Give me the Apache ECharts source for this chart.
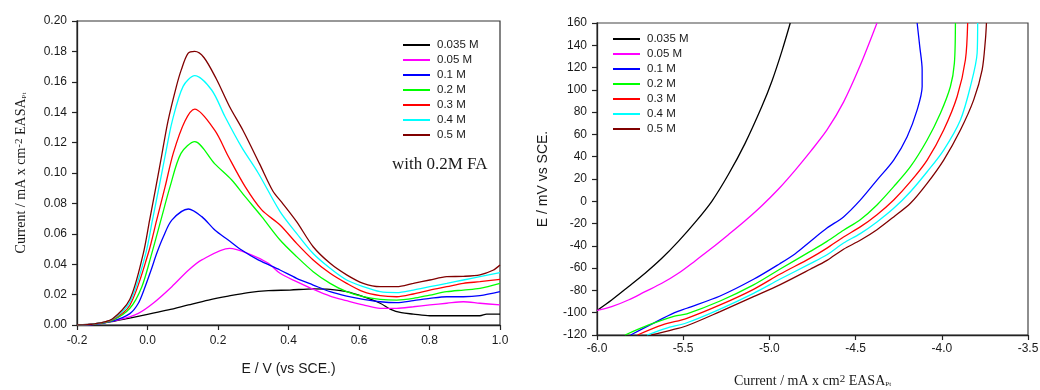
<!DOCTYPE html>
<html>
<head>
<meta charset="utf-8">
<script src="https://cdn.jsdelivr.net/npm/echarts@6/dist/echarts.min.js"></script>
<style>html,body{margin:0;padding:0;background:#fff}#c{width:1040px;height:390px}</style>
</head>
<body>
<div id="c"></div>
<script>
// ---- data ----
const names = ['0.035 M','0.05 M','0.1 M','0.2 M','0.3 M','0.4 M','0.5 M'];
const leftXTicks = [-0.2, 1.0, 0.2];
const leftYTicks = [0, 0.20, 0.02];
const rightXTicks = [-6.0, -3.5, 0.5];
const rightYTicks = [-120, 160, 20];

// Left panel: current vs potential (V, mA cm-2)
const cv035 = [[-0.2,0],[-0.15,0.0007],[-0.102,0.0022],[-0.054,0.0044],[0,0.007],[0.059,0.0099],[0.116,0.0132],[0.173,0.0164],[0.229,0.019],[0.286,0.0213],[0.343,0.0226],[0.404,0.023],[0.47,0.0238],[0.518,0.0235],[0.565,0.0219],[0.612,0.0186],[0.66,0.0143],[0.69,0.0103],[0.72,0.0081],[0.754,0.0072],[0.801,0.0061],[0.849,0.0061],[0.943,0.0061],[0.962,0.0072],[1.0,0.0072]];
const cv05 = [[-0.2,0],[-0.15,0.0005],[-0.083,0.0033],[-0.026,0.0077],[0.016,0.0143],[0.069,0.0252],[0.116,0.036],[0.154,0.0428],[0.233,0.0504],[0.286,0.047],[0.343,0.0406],[0.376,0.034],[0.423,0.0285],[0.47,0.0235],[0.518,0.019],[0.565,0.016],[0.612,0.0132],[0.66,0.011],[0.707,0.011],[0.754,0.012],[0.801,0.0132],[0.849,0.0143],[0.896,0.0153],[0.943,0.0143],[1.0,0.0132]];
const cv1 = [[-0.2,0],[-0.15,0.0005],[-0.1,0.0025],[-0.05,0.0075],[-0.026,0.0143],[-0.007,0.025],[0.01,0.036],[0.026,0.047],[0.045,0.058],[0.069,0.069],[0.116,0.0763],[0.154,0.0713],[0.191,0.0625],[0.229,0.0559],[0.267,0.0493],[0.314,0.0428],[0.376,0.0362],[0.423,0.0307],[0.47,0.0263],[0.518,0.0219],[0.565,0.019],[0.612,0.0169],[0.66,0.0153],[0.707,0.0147],[0.754,0.016],[0.801,0.0175],[0.849,0.0186],[0.896,0.0186],[0.943,0.0193],[1.0,0.0219]];
const cv2 = [[-0.2,0],[-0.15,0.0006],[-0.1,0.003],[-0.05,0.011],[-0.016,0.0252],[0.012,0.047],[0.038,0.069],[0.064,0.091],[0.095,0.1129],[0.134,0.1206],[0.191,0.106],[0.239,0.0954],[0.277,0.0844],[0.324,0.0713],[0.376,0.0559],[0.423,0.045],[0.47,0.0351],[0.518,0.0274],[0.565,0.0219],[0.612,0.0186],[0.66,0.0169],[0.707,0.0164],[0.754,0.0175],[0.801,0.0197],[0.849,0.0219],[0.896,0.023],[0.943,0.0241],[1.0,0.0274]];
const cv3 = [[-0.2,0],[-0.15,0.0007],[-0.1,0.0035],[-0.05,0.013],[0.002,0.047],[0.026,0.069],[0.05,0.091],[0.073,0.1129],[0.106,0.134],[0.134,0.142],[0.191,0.128],[0.229,0.111],[0.277,0.091],[0.324,0.0757],[0.376,0.0658],[0.423,0.0537],[0.47,0.0428],[0.518,0.034],[0.565,0.0274],[0.612,0.0219],[0.66,0.0193],[0.707,0.0186],[0.754,0.0204],[0.801,0.023],[0.849,0.0252],[0.896,0.0274],[0.943,0.0285],[1.0,0.030]];
const cv4 = [[-0.2,0],[-0.15,0.0008],[-0.1,0.0038],[-0.05,0.015],[-0.005,0.047],[0.014,0.069],[0.033,0.091],[0.051,0.1125],[0.07,0.134],[0.101,0.157],[0.134,0.164],[0.182,0.1546],[0.22,0.137],[0.267,0.117],[0.314,0.1],[0.376,0.0746],[0.423,0.0603],[0.47,0.047],[0.518,0.0373],[0.565,0.0296],[0.612,0.0252],[0.66,0.0219],[0.707,0.0213],[0.754,0.023],[0.801,0.0252],[0.849,0.0274],[0.896,0.0296],[0.943,0.0318],[1.0,0.0344]];
const cv5 = [[-0.2,0],[-0.15,0.0008],[-0.1,0.004],[-0.05,0.017],[-0.012,0.047],[0.006,0.069],[0.024,0.091],[0.041,0.1125],[0.058,0.134],[0.082,0.157],[0.096,0.168],[0.115,0.1787],[0.134,0.180],[0.16,0.176],[0.195,0.162],[0.233,0.1436],[0.271,0.128],[0.318,0.106],[0.356,0.088],[0.38,0.081],[0.423,0.068],[0.47,0.0515],[0.518,0.0406],[0.565,0.033],[0.612,0.0274],[0.66,0.0252],[0.707,0.0252],[0.754,0.0274],[0.801,0.0296],[0.849,0.0318],[0.896,0.032],[0.943,0.033],[0.98,0.036],[1.0,0.0395]];

// Right panel: potential (mV) vs current (mA cm2)
const tf035 = [[-6.0,-98],[-5.915,-88.6],[-5.818,-76.7],[-5.721,-64.6],[-5.624,-51.2],[-5.528,-36],[-5.431,-19],[-5.334,0],[-5.238,24],[-5.141,52],[-5.044,85],[-4.985,108],[-4.927,135],[-4.879,160]];
const tf05 = [[-6.0,-98],[-5.915,-94.6],[-5.818,-88.6],[-5.721,-81.1],[-5.624,-73.6],[-5.528,-64.6],[-5.431,-53.5],[-5.334,-42],[-5.238,-30],[-5.141,-17.5],[-5.044,-4],[-4.947,11],[-4.85,28],[-4.76,45],[-4.666,64],[-4.57,89],[-4.473,122],[-4.376,160]];
const tf1 = [[-5.805,-120],[-5.68,-110],[-5.55,-100],[-5.479,-96],[-5.286,-85],[-5.092,-70],[-4.94,-56],[-4.85,-47],[-4.763,-36],[-4.666,-24],[-4.57,-14],[-4.473,1],[-4.376,19],[-4.279,37],[-4.201,58],[-4.143,82],[-4.114,103],[-4.114,118],[-4.128,139],[-4.143,160]];
const tf2 = [[-5.837,-120],[-5.7,-111],[-5.55,-103],[-5.479,-101],[-5.286,-89.5],[-5.092,-75],[-4.94,-61],[-4.763,-45],[-4.666,-36],[-4.57,-26],[-4.473,-16.5],[-4.376,-3.3],[-4.279,13.1],[-4.182,31],[-4.085,55],[-4.008,79],[-3.95,103],[-3.927,124],[-3.921,160]];
const tf3 = [[-5.765,-120],[-5.62,-111],[-5.479,-105],[-5.286,-93],[-5.092,-79],[-4.94,-65.5],[-4.763,-51],[-4.666,-42],[-4.57,-32],[-4.473,-23],[-4.376,-12],[-4.279,1.2],[-4.182,17.6],[-4.085,37],[-3.989,64],[-3.911,94],[-3.863,127],[-3.85,160]];
const tf4 = [[-5.71,-120],[-5.6,-114],[-5.479,-109],[-5.286,-96.7],[-5.092,-82.6],[-4.94,-70],[-4.763,-56],[-4.666,-48],[-4.57,-37.5],[-4.473,-29],[-4.376,-18.5],[-4.279,-6.3],[-4.182,8.6],[-4.085,26.5],[-3.989,46],[-3.892,73],[-3.834,103],[-3.795,133],[-3.792,160]];
const tf5 = [[-5.685,-120],[-5.58,-116],[-5.479,-111.7],[-5.286,-99],[-5.092,-85.6],[-4.94,-75],[-4.763,-61],[-4.666,-53],[-4.57,-43],[-4.473,-35],[-4.376,-25.5],[-4.279,-14],[-4.182,-1.8],[-4.085,16.1],[-3.989,37],[-3.892,64],[-3.815,91],[-3.766,118],[-3.747,145],[-3.741,160]];

const leftSets = [cv035, cv05, cv1, cv2, cv3, cv4, cv5];
const rightSets = [tf035, tf05, tf1, tf2, tf3, tf4, tf5];

// ---- styles ----
const colors = ['#000000','#ff00ff','#0000ff','#00ff00','#ff0000','#00ffff','#800000'];
const sans = "'Liberation Sans', Arial, sans-serif";
const serif = "'Liberation Serif', 'Times New Roman', serif";
const labelStyle = {color:'#1a1a1a', fontSize:12, fontFamily:sans};
const axisLine = {show:true, onZero:false, lineStyle:{color:'#222', width:1.3}};
const tick = {show:true, length:5, lineStyle:{color:'#222', width:1.2}};
const nameRich = {
  b:{fontFamily:serif, fontSize:14, color:'#1a1a1a'},
  sup:{fontFamily:serif, fontSize:11, color:'#1a1a1a', verticalAlign:'top'},
  sub:{fontFamily:serif, fontSize:7, color:'#1a1a1a', verticalAlign:'bottom'}
};

function vAxis(idx, ticks, digits, extra){
  return Object.assign({
    type:'value', gridIndex:idx, min:ticks[0], max:ticks[1], interval:ticks[2],
    splitLine:{show:false}, axisLine:axisLine, axisTick:tick,
    axisLabel:Object.assign({margin:10, formatter:v=>v.toFixed(digits)}, labelStyle)
  }, extra);
}

const series = [];
names.forEach((n,i)=>{
  series.push({name:n, type:'line', xAxisIndex:0, yAxisIndex:0, data:leftSets[i], smooth:0.3,
    symbol:'none', lineStyle:{color:colors[i], width:1.3}, itemStyle:{color:colors[i]}, animation:false});
});
names.forEach((n,i)=>{
  series.push({name:n, type:'line', xAxisIndex:1, yAxisIndex:1, data:rightSets[i], smooth:0.3,
    symbol:'none', lineStyle:{color:colors[i], width:1.3}, itemStyle:{color:colors[i]}, animation:false});
});

const legendCommon = {orient:'vertical', icon:'rect', itemWidth:27, itemHeight:2, itemGap:3, data:names,
  textStyle:{color:'#1a1a1a', fontSize:11.5, fontFamily:sans, padding:[0,0,0,2]}};

const option = {
  animation:false,
  backgroundColor:'#fff',
  grid:[
    {left:77, right:540, top:21, bottom:65, outerBoundsMode:'none', containLabel:false, show:true, borderColor:'#333', borderWidth:1.2},
    {left:597, right:12, top:23, bottom:55, outerBoundsMode:'none', containLabel:false, show:true, borderColor:'#444', borderWidth:1.2}
  ],
  xAxis:[
    vAxis(0, leftXTicks, 1, {name:'E / V (vs SCE.)', nameLocation:'middle', nameGap:37,
      nameTextStyle:{fontFamily:sans, fontSize:14, color:'#1a1a1a'}}),
    vAxis(1, rightXTicks, 1, {name:'{b|Current / mA x cm}{sup|2}{b| EASA}{sub|Pt}', nameLocation:'middle', nameGap:39,
      nameTextStyle:{rich:nameRich}, axisLabel:Object.assign({margin:8, formatter:v=>v.toFixed(1)}, labelStyle)})
  ],
  yAxis:[
    vAxis(0, leftYTicks, 2, {name:'{b|Current / mA x cm}{sup|-2}{b| EASA}{sub|Pt}', nameLocation:'middle', nameGap:49, nameRotate:90,
      nameTextStyle:{rich:nameRich}}),
    vAxis(1, rightYTicks, 0, {name:'E / mV vs SCE.', nameLocation:'middle', nameGap:47, nameRotate:90,
      nameTextStyle:{fontFamily:sans, fontSize:14, color:'#1a1a1a'}})
  ],
  legend:[
    Object.assign({left:398, top:34}, legendCommon),
    Object.assign({left:608, top:28}, legendCommon)
  ],
  graphic:[
    {type:'text', left:392, top:156, style:{text:'with 0.2M FA', font:"17px 'Liberation Serif', 'Times New Roman', serif", fill:'#1a1a1a'}}
  ],
  series:series
};

const chart = echarts.init(document.getElementById('c'), null, {renderer:'canvas'});
chart.setOption(option);
</script>
</body>
</html>
